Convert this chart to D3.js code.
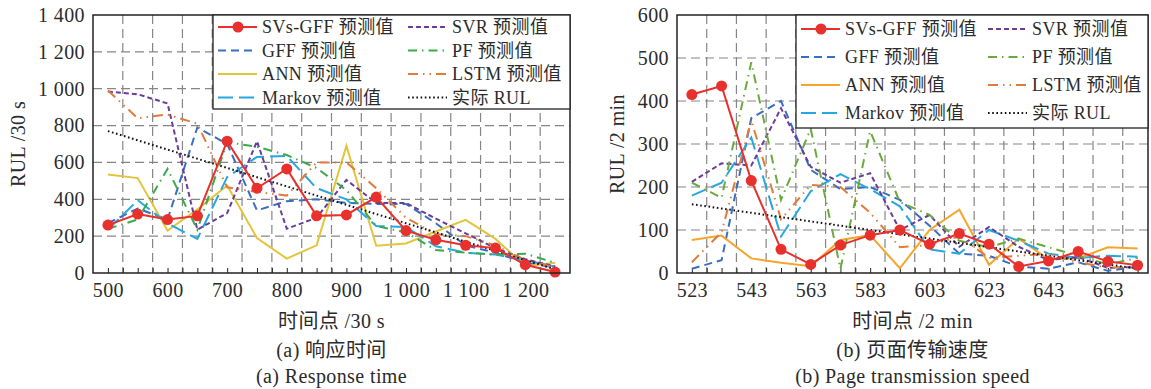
<!DOCTYPE html>
<html>
<head>
<meta charset="utf-8">
<script src="https://cdn.jsdelivr.net/npm/d3@7"></script>
<style>
  body { margin: 0; background: #fff; }
  svg text { font-family: "Liberation Serif", "Noto Sans CJK SC", serif; fill: #2b2b2b; letter-spacing: 0.4px; }
</style>
</head>
<body>
<svg width="1151" height="389"></svg>
<script>
// legend names, same order for both panels
const seriesNames = ["SVs-GFF 预测值", "GFF 预测值", "ANN 预测值", "Markov 预测值",
                     "SVR 预测值", "PF 预测值", "LSTM 预测值", "实际 RUL"];

// (a) response time, x in units of 30 s
const rtTime   = [500, 550, 600, 650, 700, 750, 800, 850, 900, 950, 1000, 1050, 1100, 1150, 1200, 1250];
const rtSvsGff = [260, 320, 290, 310, 715, 460, 565, 310, 315, 412, 230, 180, 150, 135, 45, 5];
const rtGff    = [270, 350, 290, 790, 700, 340, 390, 400, 380, 375, 375, 270, 150, 110, 55, 30];
const rtAnn    = [535, 515, 230, 345, 475, 190, 78, 150, 690, 148, 160, 225, 288, 185, 37, 55];
const rtMarkov = [235, 395, 270, 185, 520, 630, 635, 460, 400, 255, 250, 145, 110, 100, 70, 35];
const rtSvr    = [985, 970, 920, 235, 325, 715, 240, 300, 505, 380, 380, 295, 215, 135, 75, 35];
const rtPf     = [240, 290, 565, 235, 710, 685, 640, 570, 450, 255, 220, 125, 110, 100, 105, 55];
const rtLstm   = [990, 840, 860, 810, 465, 440, 420, 600, 600, 460, 300, 210, 200, 150, 70, 30];
const rtActual = [770, 720, 670, 620, 570, 520, 470, 420, 370, 320, 270, 220, 170, 120, 70, 20];
const rtXLabels = [500, 600, 700, 800, 900, 1000, 1100, 1200];
const rtYLabels = [0, 200, 400, 600, 800, 1000, 1200, 1400];

// (b) page transmission speed, x in units of 2 min
const psTime   = [523, 533, 543, 553, 563, 573, 583, 593, 603, 613, 623, 633, 643, 653, 663, 673];
const psSvsGff = [415, 435, 215, 55, 20, 65, 88, 100, 67, 92, 67, 15, 28, 50, 27, 18];
const psGff    = [10, 30, 360, 400, 240, 195, 200, 170, 110, 45, 40, 15, 10, 25, 5, 15];
const psAnn    = [77, 87, 34, 24, 16, 77, 88, 11, 100, 147, 19, 80, 32, 34, 60, 57];
const psMarkov = [180, 210, 315, 85, 190, 230, 195, 155, 55, 45, 100, 75, 45, 35, 40, 38];
const psSvr    = [212, 255, 250, 383, 247, 210, 232, 100, 135, 61, 107, 61, 30, 37, 12, 14];
const psPf     = [210, 175, 490, 170, 335, 10, 330, 165, 135, 75, 60, 80, 60, 40, 20, 35];
const psLstm   = [25, 95, 355, 125, 205, 200, 140, 60, 65, 85, 35, 40, 45, 25, 12, 15];
const psActual = [160, 150, 140, 130, 120, 110, 100, 90, 80, 70, 60, 50, 40, 30, 20, 10];
const psXLabels = [523, 543, 563, 583, 603, 623, 643, 663];
const psYLabels = [0, 100, 200, 300, 400, 500, 600];

const fontStack = '"Liberation Serif", "Noto Sans CJK SC", serif';
const svg = d3.select("svg");
const plotTop = 15, plotBottom = 273;

// 1 000 style grouping
const fmt = d => d >= 1000 ? String(d).replace(/(\d)(\d{3})$/, "$1 $2") : String(d);

function drawPanel(p) {
  const x = d3.scaleLinear().domain(p.xDomain).range([p.left, p.right]);
  const y = d3.scaleLinear().domain([0, p.yMax]).range([plotBottom, plotTop]);
  const g = svg.append("g");

  // dashed grid
  g.append("g").selectAll("line").data(p.yLabels.slice(1, -1)).enter().append("line")
    .attr("x1", p.left).attr("x2", p.right)
    .attr("y1", d => y(d)).attr("y2", d => y(d))
    .attr("stroke", "#858585").attr("stroke-width", 1.2).attr("stroke-dasharray", "9,5");
  g.append("g").selectAll("line").data(d3.range(p.gridStart, p.xDomain[1], p.gridStep)).enter().append("line")
    .attr("x1", d => x(d)).attr("x2", d => x(d))
    .attr("y1", plotTop).attr("y2", plotBottom)
    .attr("stroke", "#858585").attr("stroke-width", 1.2).attr("stroke-dasharray", "9,5");

  // small inward ticks on the bottom
  g.append("g").attr("transform", `translate(0,${plotBottom})`)
    .call(d3.axisBottom(x).tickValues(d3.range(p.time[0], p.xDomain[1], p.minorStep)).tickSize(-5).tickFormat(""))
    .call(a => a.select(".domain").remove())
    .selectAll("line").attr("stroke", "#222");

  // tick labels
  g.append("g").attr("transform", `translate(0,${plotBottom})`)
    .call(d3.axisBottom(x).tickValues(p.xLabels).tickSize(0).tickPadding(10).tickFormat(fmt))
    .attr("font-family", fontStack).attr("font-size", 20)
    .call(a => a.select(".domain").remove());
  g.append("g").attr("transform", `translate(${p.left},0)`)
    .call(d3.axisLeft(y).tickValues(p.yLabels).tickSize(0).tickPadding(8).tickFormat(fmt))
    .attr("font-family", fontStack).attr("font-size", 20)
    .call(a => a.select(".domain").remove());

  const line = d3.line().x((d, i) => x(p.time[i])).y(d => y(d));

  // draw others first, actual RUL and SVs-GFF on top
  [1, 2, 3, 4, 5, 6, 7, 0].forEach(k => {
    const s = p.series[k];
    g.append("path").datum(s.values)
      .attr("d", line)
      .attr("fill", "none")
      .attr("stroke", s.color)
      .attr("stroke-width", 2)
      .attr("stroke-dasharray", s.dash);
  });
  g.selectAll(".pt").data(p.series[0].values).enter().append("circle")
    .attr("cx", (d, i) => x(p.time[i]))
    .attr("cy", d => y(d))
    .attr("r", 5.5)
    .attr("fill", p.series[0].color);

  // frame
  g.append("rect")
    .attr("x", p.left).attr("y", plotTop)
    .attr("width", p.right - p.left).attr("height", plotBottom - plotTop)
    .attr("fill", "none").attr("stroke", "#222").attr("stroke-width", 1.5);

  // legend
  const L = p.legend;
  const lg = g.append("g");
  lg.append("rect")
    .attr("x", L.x).attr("y", plotTop).attr("width", p.right - L.x).attr("height", L.h)
    .attr("fill", "#fff").attr("stroke", "#222").attr("stroke-width", 1.3);
  p.series.forEach((s, i) => {
    const col = i < 4 ? 0 : 1, row = i % 4;
    const x0 = L.cols[col], yy = L.row0 + row * L.rowStep;
    lg.append("line")
      .attr("x1", x0).attr("x2", x0 + 39).attr("y1", yy).attr("y2", yy)
      .attr("stroke", s.color).attr("stroke-width", 2).attr("stroke-dasharray", s.dash);
    if (i === 0) {
      lg.append("circle").attr("cx", x0 + 20).attr("cy", yy).attr("r", 5.5).attr("fill", s.color);
    }
    lg.append("text")
      .attr("x", x0 + 44).attr("y", yy)
      .attr("dominant-baseline", "central")
      .style("font-size", "18px")
      .text(seriesNames[i]);
  });

  // axis titles and captions
  const cx = (p.left + p.right) / 2;
  svg.append("text")
    .attr("transform", `translate(${p.yTitleX},${(plotTop + plotBottom) / 2}) rotate(-90)`)
    .attr("text-anchor", "middle").attr("dominant-baseline", "central")
    .style("font-size", "20px").text(p.yTitle);
  [[p.xTitle, 321], [p.cap1, 350], [p.cap2, 376]].forEach(t => {
    svg.append("text")
      .attr("x", cx).attr("y", t[1])
      .attr("text-anchor", "middle").attr("dominant-baseline", "central")
      .style("font-size", "20px").text(t[0]);
  });
}

const dashes = {
  solid: null,
  gff: "8,5",
  markov: "15,6",
  svr: "5,3",
  pf: "9,5,1.5,5",
  lstm: "10,5,1.5,5,1.5,5",
  actual: "1.6,2.6"
};

drawPanel({
  left: 93, right: 570,
  xDomain: [475, 1275], yMax: 1400,
  time: rtTime, xLabels: rtXLabels, yLabels: rtYLabels,
  gridStart: 525, gridStep: 50, minorStep: 25,
  yTitle: "RUL /30 s", yTitleX: 18,
  xTitle: "时间点 /30 s", cap1: "(a) 响应时间", cap2: "(a) Response time",
  legend: { x: 213, h: 94, cols: [218, 408], row0: 27, rowStep: 23.5 },
  series: [
    { values: rtSvsGff, color: "#e8302c", dash: dashes.solid },
    { values: rtGff,    color: "#3a6ec0", dash: dashes.gff },
    { values: rtAnn,    color: "#e2c53c", dash: dashes.solid },
    { values: rtMarkov, color: "#27a7df", dash: dashes.markov },
    { values: rtSvr,    color: "#6a3d9a", dash: dashes.svr },
    { values: rtPf,     color: "#3aaa4a", dash: dashes.pf },
    { values: rtLstm,   color: "#e07b3c", dash: dashes.lstm },
    { values: rtActual, color: "#111111", dash: dashes.actual }
  ]
});

drawPanel({
  left: 677, right: 1148,
  xDomain: [518, 676.5], yMax: 600,
  time: psTime, xLabels: psXLabels, yLabels: psYLabels,
  gridStart: 528, gridStep: 10, minorStep: 5,
  yTitle: "RUL /2 min", yTitleX: 617,
  xTitle: "时间点 /2 min", cap1: "(b) 页面传输速度", cap2: "(b) Page transmission speed",
  legend: { x: 796, h: 113, cols: [801, 988], row0: 29, rowStep: 28 },
  series: [
    { values: psSvsGff, color: "#e8302c", dash: dashes.solid },
    { values: psGff,    color: "#3a6ec0", dash: dashes.gff },
    { values: psAnn,    color: "#f5a62a", dash: dashes.solid },
    { values: psMarkov, color: "#27a7df", dash: dashes.markov },
    { values: psSvr,    color: "#6a3d9a", dash: dashes.svr },
    { values: psPf,     color: "#6aaa3c", dash: dashes.pf },
    { values: psLstm,   color: "#e07b3c", dash: dashes.lstm },
    { values: psActual, color: "#111111", dash: dashes.actual }
  ]
});
</script>
</body>
</html>
